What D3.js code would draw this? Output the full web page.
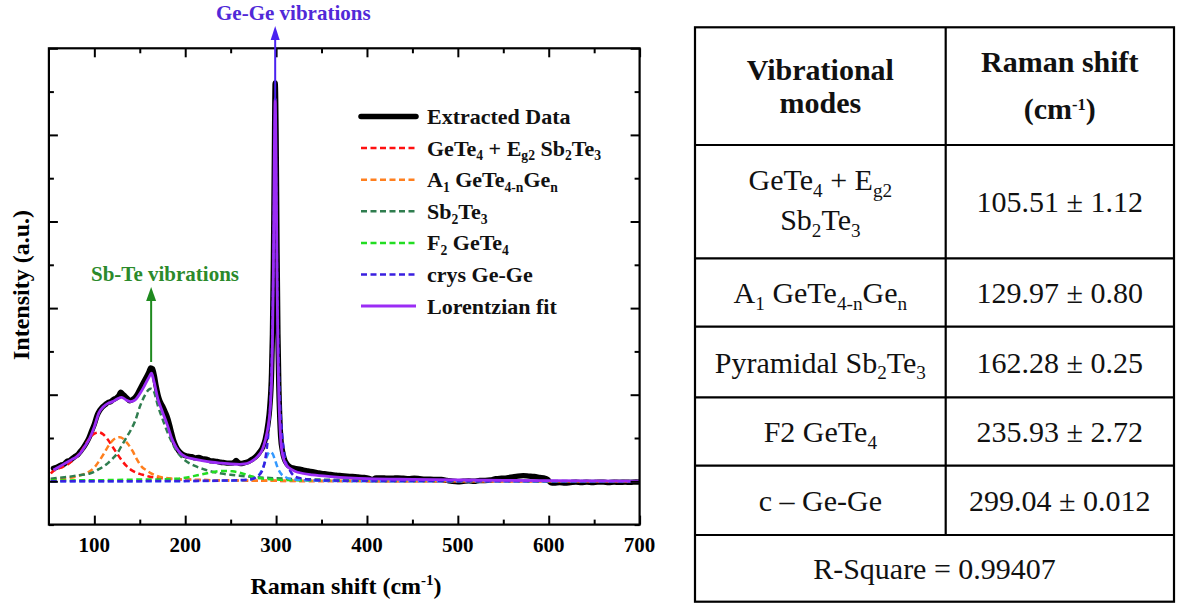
<!DOCTYPE html>
<html><head><meta charset="utf-8">
<script src="https://cdn.jsdelivr.net/npm/d3@7"></script>
<style>body{margin:0;background:#fff} svg{display:block}</style>
</head><body><svg id="c" width="1177" height="603"></svg>
<script>
// ---------- data ----------
const xTicksMajor = [100,200,300,400,500,600,700];
const xTicksMinor = [150,250,350,450,550,650];
const yTicksMajor = [0,1,2,3,4,5];
const yTicksMinor = [-0.5,0.5,1.5,2.5,3.5,4.5];

const extractedData = [[55,0.15],[58,0.16],[61,0.175],[64,0.19],[67,0.2],[70,0.23],[73,0.24],[76,0.265],[79,0.29],[82,0.31],[85,0.35],[88,0.39],[91,0.44],[94,0.5],[97,0.58],[100,0.66],[103,0.76],[106,0.82],[109,0.86],[112,0.885],[115,0.91],[118,0.92],[121,0.945],[124,0.96],[127,0.99],[129,1.03],[131,1.01],[133,0.99],[136,0.96],[139,0.93],[142,0.945],[145,0.97],[148,1.02],[151,1.08],[154,1.14],[157,1.2],[160,1.26],[162,1.31],[164,1.3],[166,1.22],[168,1.1],[170,1.0],[172,0.93],[175,0.87],[178,0.8],[181,0.72],[184,0.6],[187,0.48],[190,0.4],[193,0.35],[196,0.32],[199,0.3],[203,0.29],[207,0.285],[211,0.27],[215,0.275],[219,0.26],[223,0.255],[227,0.24],[231,0.235],[235,0.23],[239,0.22],[243,0.215],[247,0.21],[251,0.21],[254,0.22],[256,0.24],[258,0.22],[261,0.205],[264,0.21],[267,0.22],[270,0.23],[273,0.25],[276,0.27],[279,0.3],[282,0.34],[285,0.39],[288,0.48],[291,0.66],[293,0.85],[295,1.25],[296,1.7],[297,2.5],[298,3.6],[299,4.6],[300,4.0],[301,2.7],[302,1.7],[303,1.1],[304,0.75],[305,0.52],[307,0.35],[309,0.26],[312,0.2],[315,0.17],[318,0.155],[322,0.145],[326,0.14],[330,0.13],[335,0.12],[340,0.11],[345,0.1],[350,0.09],[355,0.085],[360,0.08],[366,0.07],[372,0.065],[378,0.06],[384,0.055],[390,0.05],[396,0.045],[402,0.035],[406,0.02],[410,0.04],[416,0.04],[422,0.035],[428,0.035],[434,0.04],[440,0.035],[446,0.03],[452,0.035],[458,0.03],[464,0.025],[470,0.025],[476,0.02],[482,0.02],[488,0.01],[494,0.0],[500,-0.005],[506,0.0],[512,0.005],[518,0.0],[524,0.01],[530,0.01],[536,0.015],[542,0.03],[548,0.035],[554,0.04],[560,0.05],[566,0.06],[572,0.065],[578,0.06],[584,0.055],[590,0.045],[596,0.035],[599,0.02],[602,-0.015],[606,-0.02],[612,-0.015],[618,-0.02],[624,-0.015],[630,-0.01],[636,-0.015],[642,-0.01],[648,-0.015],[654,-0.01],[660,-0.01],[666,-0.015],[672,-0.01],[678,-0.012],[684,-0.01],[690,-0.012],[696,-0.008],[700,-0.01]];

const lorentzFit = [[55,0.13],[60,0.16],[65,0.19],[70,0.22],[75,0.25],[80,0.28],[85,0.33],[90,0.41],[95,0.5],[100,0.63],[105,0.79],[110,0.86],[115,0.9],[120,0.92],[125,0.95],[130,0.97],[135,0.94],[140,0.92],[145,0.94],[150,1.01],[155,1.1],[160,1.2],[163,1.25],[165,1.18],[170,0.95],[175,0.8],[180,0.66],[185,0.5],[190,0.39],[195,0.32],[200,0.285],[210,0.255],[220,0.235],[230,0.22],[240,0.21],[250,0.2],[260,0.195],[265,0.2],[270,0.215],[275,0.245],[280,0.29],[285,0.37],[288,0.47],[291,0.62],[293,0.78],[294,0.92],[295,1.15],[296,1.6],[297,2.4],[298,3.7],[299,4.42],[300,3.7],[301,2.4],[302,1.5],[303,1.0],[304,0.7],[305,0.5],[306,0.38],[308,0.27],[310,0.21],[315,0.15],[320,0.12],[330,0.09],[340,0.075],[360,0.055],[380,0.04],[400,0.03],[450,0.022],[500,0.016],[550,0.011],[600,0.007],[650,0.004],[700,0.003]];

const compGeTe4Eg2 = [[52,0.09],[55,0.12],[60,0.145],[65,0.165],[70,0.19],[75,0.23],[80,0.28],[85,0.34],[90,0.42],[95,0.5],[100,0.55],[105,0.566],[110,0.54],[115,0.48],[120,0.4],[125,0.32],[130,0.245],[135,0.18],[140,0.135],[145,0.105],[150,0.085],[155,0.07],[160,0.055],[170,0.04],[180,0.03],[200,0.02],[230,0.012],[260,0.008],[300,0.005],[400,0.002],[500,0.001],[700,0.0]];
const compA1 = [[52,0.02],[60,0.025],[70,0.035],[80,0.055],[90,0.09],[95,0.115],[100,0.16],[105,0.23],[110,0.31],[115,0.4],[120,0.47],[125,0.505],[128,0.51],[132,0.49],[137,0.43],[142,0.35],[147,0.25],[152,0.17],[157,0.13],[162,0.095],[168,0.065],[175,0.045],[185,0.03],[200,0.02],[230,0.012],[270,0.008],[300,0.006],[400,0.003],[500,0.002],[700,0.0]];
const compSb2Te3 = [[52,0.03],[60,0.04],[70,0.05],[80,0.065],[90,0.08],[95,0.09],[100,0.11],[105,0.14],[110,0.17],[115,0.21],[120,0.26],[125,0.32],[130,0.41],[135,0.5],[140,0.59],[145,0.7],[150,0.86],[155,0.98],[160,1.06],[162,1.07],[165,1.05],[170,0.87],[175,0.72],[180,0.58],[185,0.46],[190,0.36],[195,0.29],[200,0.24],[210,0.18],[220,0.14],[230,0.11],[240,0.09],[250,0.075],[260,0.065],[275,0.05],[290,0.04],[310,0.03],[350,0.02],[400,0.012],[500,0.006],[600,0.004],[700,0.003]];
const compF2 = [[52,0.01],[100,0.012],[150,0.02],[170,0.022],[187,0.028],[200,0.04],[209,0.06],[220,0.085],[230,0.105],[238,0.118],[245,0.12],[252,0.115],[260,0.1],[268,0.075],[275,0.05],[283,0.035],[290,0.028],[300,0.02],[320,0.012],[350,0.008],[400,0.005],[500,0.003],[700,0.001]];
const compAGeGe = [[52,0.0],[200,0.002],[260,0.01],[275,0.03],[280,0.06],[284,0.12],[287,0.2],[290,0.29],[293,0.34],[296,0.32],[299,0.24],[302,0.15],[306,0.08],[310,0.05],[320,0.02],[340,0.01],[400,0.0],[700,0.0]];
const compCrysGeGe = [[52,0.0],[200,0.004],[250,0.01],[270,0.02],[280,0.06],[285,0.13],[288,0.25],[290,0.4],[292,0.62],[294,1.0],[296,1.8],[297,2.5],[298,3.4],[299,4.25],[300,3.4],[301,2.5],[302,1.8],[304,1.0],[306,0.62],[308,0.4],[310,0.25],[315,0.13],[320,0.06],[330,0.03],[350,0.01],[400,0.005],[700,0.0]];

// legend labels (segments: [text, 0 normal | 1 subscript | 2 superscript])
const legendLabels = [
  [["Extracted Data",0]],
  [["GeTe",0],["4",1],[" + E",0],["g2",1],[" Sb",0],["2",1],["Te",0],["3",1]],
  [["A",0],["1",1],[" GeTe",0],["4-n",1],["Ge",0],["n",1]],
  [["Sb",0],["2",1],["Te",0],["3",1]],
  [["F",0],["2",1],[" GeTe",0],["4",1]],
  [["crys Ge-Ge",0]],
  [["Lorentzian fit",0]]
];

// table contents
const tableHeader = [
  [[["Vibrational",0]],[["modes",0]]],
  [[["Raman shift",0]],[["(cm",0],["-1",2],[")",0]]]
];
const tableModes = [
  [[["GeTe",0],["4",1],[" + E",0],["g2",1]],[["Sb",0],["2",1],["Te",0],["3",1]]],
  [[["A",0],["1",1],[" GeTe",0],["4-n",1],["Ge",0],["n",1]]],
  [[["Pyramidal Sb",0],["2",1],["Te",0],["3",1]]],
  [[["F2 GeTe",0],["4",1]]],
  [[["c \u2013 Ge-Ge",0]]]
];
const tableShifts = ["105.51 \u00b1 1.12","129.97 \u00b1 0.80","162.28 \u00b1 0.25","235.93 \u00b1 2.72","299.04 \u00b1 0.012"];
const rSquare = "R-Square = 0.99407";

// ---------- drawing ----------
const svg = d3.select("#c");
const serif = "'Liberation Serif','Times New Roman',serif";
const x = d3.scaleLinear().domain([50,700]).range([48.9,639.6]);
const y = d3.scaleLinear().domain([-0.5,5]).range([524.6,48.3]);
const X0 = x.range()[0], X1 = x.range()[1], Y0 = y.range()[0], Y1 = y.range()[1];

svg.append("defs").append("clipPath").attr("id","clip")
  .append("rect").attr("x",X0).attr("y",Y1).attr("width",X1-X0).attr("height",Y0-Y1);

const line = d3.line().x(d=>x(d[0])).y(d=>y(d[1])).curve(d3.curveMonotoneX);
const plot = svg.append("g").attr("clip-path","url(#clip)");

plot.append("path").datum(extractedData).attr("d",line)
  .attr("fill","none").attr("stroke","#000").attr("stroke-width",5.4)
  .attr("stroke-linejoin","round").attr("stroke-linecap","round");

const comps = [
  {d:compGeTe4Eg2, c:"#ff1010"},
  {d:compA1, c:"#ff7f1e"},
  {d:compSb2Te3, c:"#2f7d4f"},
  {d:compF2, c:"#22dd22"},
  {d:compAGeGe, c:"#3399ff"},
  {d:compCrysGeGe, c:"#3a1fe0"}
];
comps.forEach(s=>{
  plot.append("path").datum(s.d).attr("d",line)
    .attr("fill","none").attr("stroke",s.c).attr("stroke-width",2.5)
    .attr("stroke-dasharray","6,3.5");
});
plot.append("path").datum(lorentzFit).attr("d",line)
  .attr("fill","none").attr("stroke","#9b2cf5").attr("stroke-width",2.8)
  .attr("stroke-linejoin","round");

// axes: ticks inward on all sides
function ticks(axisGen, vals, size, tr){
  const g = svg.append("g").attr("transform",tr)
    .call(axisGen.tickValues(vals).tickSizeInner(-size).tickSizeOuter(0).tickFormat(""));
  g.select(".domain").remove();
  g.selectAll("line").attr("stroke","#000").attr("stroke-width",2);
  return g;
}
ticks(d3.axisBottom(x), xTicksMajor, 9, `translate(0,${Y0})`);
ticks(d3.axisBottom(x), xTicksMinor, 5, `translate(0,${Y0})`);
ticks(d3.axisTop(x), xTicksMajor, 9, `translate(0,${Y1})`);
ticks(d3.axisTop(x), xTicksMinor, 5, `translate(0,${Y1})`);
ticks(d3.axisLeft(y), yTicksMajor, 9, `translate(${X0},0)`);
ticks(d3.axisLeft(y), yTicksMinor, 5, `translate(${X0},0)`);
ticks(d3.axisRight(y), yTicksMajor, 9, `translate(${X1},0)`);
ticks(d3.axisRight(y), yTicksMinor, 5, `translate(${X1},0)`);

svg.append("rect").attr("x",X0).attr("y",Y1).attr("width",X1-X0).attr("height",Y0-Y1)
  .attr("fill","none").attr("stroke","#000").attr("stroke-width",2.2);

svg.append("g").selectAll("text").data(xTicksMajor).join("text")
  .attr("x",d=>x(d)).attr("y",552).attr("text-anchor","middle")
  .attr("font-family",serif).attr("font-weight","bold").attr("font-size",21)
  .text(d=>d);

// axis titles
const xt = svg.append("text").attr("x",346).attr("y",594).attr("text-anchor","middle")
  .attr("font-family",serif).attr("font-weight","bold").attr("font-size",24);
xt.append("tspan").text("Raman shift (cm");
xt.append("tspan").attr("dy",-9).attr("font-size",15).text("-1");
xt.append("tspan").attr("dy",9).text(")");

svg.append("text").attr("transform","translate(29,285) rotate(-90)")
  .attr("text-anchor","middle").attr("font-family",serif).attr("font-weight","bold")
  .attr("font-size",24).text("Intensity (a.u.)");

// annotations
const gx = x(299);
svg.append("line").attr("x1",gx).attr("x2",gx).attr("y1",y(4.4)).attr("y2",39)
  .attr("stroke","#4a22f0").attr("stroke-width",2);
svg.append("path").attr("d",`M${gx},26 L${gx-4.5},40 L${gx+4.5},40 Z`).attr("fill","#4a22f0");
svg.append("text").attr("x",216).attr("y",20).attr("font-family",serif)
  .attr("font-weight","bold").attr("font-size",21).attr("fill","#5129d8").text("Ge-Ge vibrations");

const sx = x(162.5);
svg.append("line").attr("x1",sx).attr("x2",sx).attr("y1",362).attr("y2",300)
  .attr("stroke","#1f8a1f").attr("stroke-width",2);
svg.append("path").attr("d",`M${sx},287 L${sx-5},301 L${sx+5},301 Z`).attr("fill","#1f8a1f");
svg.append("text").attr("x",91).attr("y",281).attr("font-family",serif)
  .attr("font-weight","bold").attr("font-size",21).attr("fill","#2b8a2b").text("Sb-Te vibrations");

// text with sub/superscripts
function segText(t, segs, size, subScale){
  let cur = 0;
  segs.forEach(s=>{
    const ts = t.append("tspan").text(s[0]);
    let target = 0;
    if (s[1]===1){ ts.attr("font-size",size*subScale); target = size*0.22; }
    else if (s[1]===2){ ts.attr("font-size",size*0.55); target = -size*0.3; }
    else { ts.attr("font-size",size); }
    ts.attr("dy", target-cur); cur = target;
  });
}

// legend
const legStyles = [
  {c:"#000", w:5.5, dash:null},
  {c:"#ff1010", w:2.5, dash:"6,3.5"},
  {c:"#ff7f1e", w:2.5, dash:"6,3.5"},
  {c:"#2f7d4f", w:2.5, dash:"6,3.5"},
  {c:"#22dd22", w:2.5, dash:"6,3.5"},
  {c:"#3a1fe0", w:2.5, dash:"6,3.5"},
  {c:"#9b2cf5", w:3, dash:null}
];
const lg = svg.append("g");
legendLabels.forEach((lab,i)=>{
  const ly = 116.5 + i*31.6;
  const st = legStyles[i];
  const l = lg.append("line").attr("x1",361).attr("x2",416).attr("y1",ly).attr("y2",ly)
    .attr("stroke",st.c).attr("stroke-width",st.w).attr("stroke-linecap", i===0?"round":"butt");
  if (st.dash) l.attr("stroke-dasharray",st.dash);
  const t = lg.append("text").attr("x",427).attr("y",ly+7.5).attr("font-family",serif)
    .attr("font-weight","bold").attr("fill","#111");
  segText(t, lab, 22, 0.62);
});

// table
const tb = svg.append("g");
const TL = 695, TR = 1174, TM = 945.7;
const rowsY = [27.3,145,258.3,326.7,397.3,465.7,535,601.7];
tb.append("rect").attr("x",TL).attr("y",rowsY[0]).attr("width",TR-TL).attr("height",rowsY[7]-rowsY[0])
  .attr("fill","none").attr("stroke","#000").attr("stroke-width",2.2);
rowsY.slice(1,7).forEach(r=>tb.append("line").attr("x1",TL).attr("x2",TR).attr("y1",r).attr("y2",r)
  .attr("stroke","#000").attr("stroke-width",2.2));
tb.append("line").attr("x1",TM).attr("x2",TM).attr("y1",rowsY[0]).attr("y2",rowsY[6])
  .attr("stroke","#000").attr("stroke-width",2.2);

const c1 = (TL+TM)/2, c2 = (TM+TR)/2;
function cellText(cx, base, segs, bold){
  const t = tb.append("text").attr("x",cx).attr("y",base).attr("text-anchor","middle")
    .attr("font-family",serif).attr("fill","#111").attr("font-weight",bold?"bold":"normal");
  segText(t, segs, 30, 0.64);
}
// header
cellText(c1, 80, tableHeader[0][0], true);
cellText(c1, 113, tableHeader[0][1], true);
cellText(c2, 72, tableHeader[1][0], true);
cellText(c2, 119, tableHeader[1][1], true);
// body
tableModes.forEach((lines,i)=>{
  const top = rowsY[i+1], bot = rowsY[i+2], mid = (top+bot)/2;
  if (lines.length===2){
    cellText(c1, mid-11.5, lines[0], false);
    cellText(c1, mid+28.5, lines[1], false);
  } else {
    cellText(c1, mid+10.5, lines[0], false);
  }
  cellText(c2, mid+10.5, [[tableShifts[i],0]], false);
});
cellText((TL+TR)/2, (rowsY[6]+rowsY[7])/2+11, [[rSquare,0]], false);
</script></body></html>
